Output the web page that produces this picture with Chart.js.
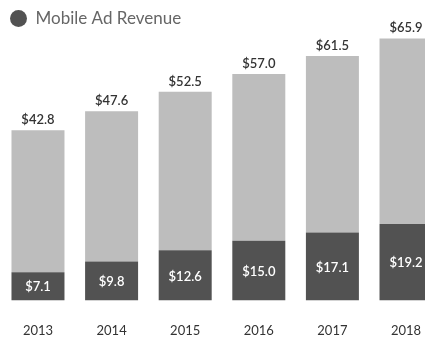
<!DOCTYPE html>
<html>
<head>
<meta charset="utf-8">
<script src="https://cdn.jsdelivr.net/npm/chart.js@4.4.0/dist/chart.umd.min.js"></script>
<style>
  html, body { margin: 0; padding: 0; background: #fff; overflow: hidden; }
  #wrap { width: 444px; height: 340px; }
</style>
</head>
<body>
<div id="wrap"><canvas id="revenue"></canvas></div>
<script>
const years = ["2013", "2014", "2015", "2016", "2017", "2018"];
// total ad revenue ($B), printed above each bar
const totalRevenue = [42.8, 47.6, 52.5, 57.0, 61.5, 65.9];
// mobile share, printed inside the dark segment
const mobileRevenue = [7.1, 9.8, 12.6, 15.0, 17.1, 19.2];

// light segment is whatever is left up to the total
const otherRevenue = totalRevenue.map((t, i) => +(t - mobileRevenue[i]).toFixed(1));

const darkGray = "#525252";
const lightGray = "#bdbdbd";

// draws "$x.x" labels: totals above the stack, mobile inside the dark part
const valueLabels = {
    id: "valueLabels",
    afterDatasetsDraw(chart) {
        const ctx = chart.ctx;
        const mobileMeta = chart.getDatasetMeta(0);
        const otherMeta = chart.getDatasetMeta(1);
        ctx.save();
        ctx.textAlign = "center";
        ctx.font = "600 13px Lato";
        for (let i = 0; i < years.length; i++) {
            const top = otherMeta.data[i];
            ctx.fillStyle = "#333";
            ctx.textBaseline = "bottom";
            ctx.fillText("$" + totalRevenue[i].toFixed(1), top.x, top.y - 4);

            const dark = mobileMeta.data[i];
            ctx.fillStyle = "#fff";
            ctx.textBaseline = "middle";
            ctx.fillText("$" + mobileRevenue[i].toFixed(1), dark.x, (dark.y + dark.base) / 2 + 1);
        }
        ctx.restore();
    }
};

new Chart(document.getElementById("revenue"), {
    type: "bar",
    plugins: [valueLabels],
    data: {
        labels: years,
        datasets: [
            {
                label: "Mobile Ad Revenue",
                data: mobileRevenue,
                backgroundColor: darkGray,
            },
            {
                label: "Other",
                data: otherRevenue,
                backgroundColor: lightGray,
            },
        ],
    },
    options: {
        responsive: true,
        maintainAspectRatio: false,
        animation: false,
        layout: { padding: { left: 0, right: 0, top: 0, bottom: -22 } },
        datasets: {
            bar: { categoryPercentage: 1, barPercentage: 0.72 },
        },
        plugins: {
            tooltip: { enabled: false },
            legend: {
                display: true,
                position: "top",
                align: "start",
                labels: {
                    usePointStyle: true,
                    pointStyle: "circle",
                    boxWidth: 17,
                    boxHeight: 12,
                    color: "#666",
                    font: { family: "Lato", size: 17 },
                    filter: (item) => item.datasetIndex === 0,
                },
            },
        },
        scales: {
            x: {
                stacked: true,
                grid: { display: false, drawTicks: false },
                border: { display: false },
                ticks: {
                    color: "#333",
                    padding: 23,
                    font: { family: "Lato", size: 13 },
                },
            },
            y: {
                stacked: true,
                display: false,
                min: 0,
                max: 66.3,
            },
        },
    },
});
</script>
</body>
</html>
